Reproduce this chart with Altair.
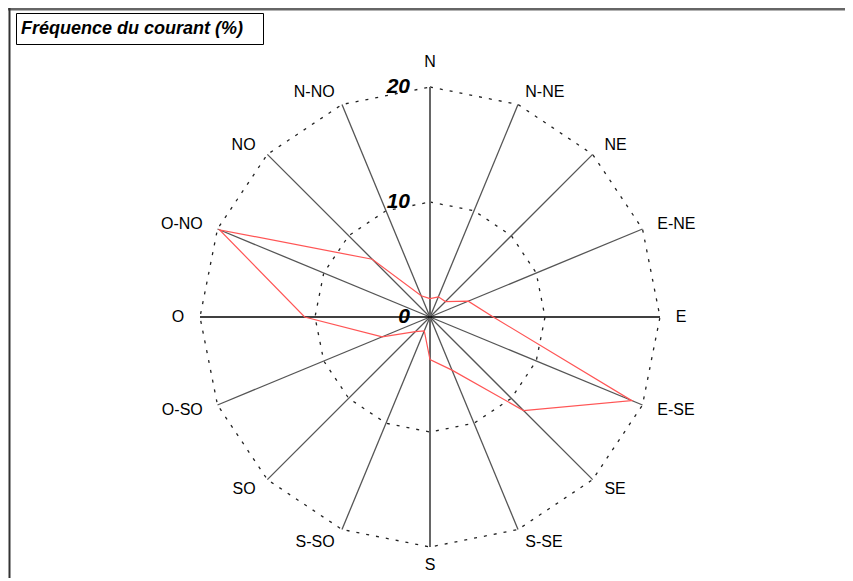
import altair as alt
import pandas as pd

# ---- data ----
directions = ["N", "N-NE", "NE", "E-NE", "E", "E-SE", "SE", "S-SE",
              "S", "S-SO", "SO", "O-SO", "O", "O-NO", "NO", "N-NO"]
frequencies = [1.6, 1.9, 1.9, 3.6, 5.5, 19.0, 11.5, 5.0,
               3.7, 1.3, 1.8, 4.5, 10.9, 19.8, 7.1, 2.0]
grid_rings = [10, 20]
radius_ticks = [0, 10, 20]
r_max = 20
title_text = "Fréquence du courant (%)"

n = len(directions)
spokes_df = pd.DataFrame({"dir": directions, "idx": list(range(n)), "r": [r_max] * n})
poly_df = pd.DataFrame({"idx": list(range(n + 1)), "value": frequencies + [frequencies[0]]})
ring_df = pd.DataFrame([{"ring": r, "idx": i} for r in grid_rings for i in range(n + 1)])
tick_df = pd.DataFrame({"tick": radius_ticks, "label": [str(t) for t in radius_ticks]})
one_df = pd.DataFrame({"k": [0]})

W, H = 837, 570
PX = 11.5  # pixels per unit
CX, CY = 422, 309
ANG = "datum.idx * PI / 8"
XS = alt.Scale(domain=[-CX / PX, (W - CX) / PX], nice=False, zero=False)
YS = alt.Scale(domain=[-(H - CY) / PX, CY / PX], nice=False, zero=False)
X = alt.X("x:Q", scale=XS, axis=None)
Y = alt.Y("y:Q", scale=YS, axis=None)
FONT = "Liberation Sans"

rings = alt.Chart(ring_df).transform_calculate(
    x=f"datum.ring * sin({ANG})", y=f"datum.ring * cos({ANG})"
).mark_line(stroke="#222", strokeWidth=1.3, strokeDash=[3, 7]).encode(
    X, Y, detail="ring:N", order="idx:Q")

spoke_base = alt.Chart(spokes_df).transform_calculate(
    x="0", y="0", xe=f"datum.r * sin({ANG})", ye=f"datum.r * cos({ANG})")

minor_spokes = spoke_base.transform_filter("datum.idx % 4 != 0").mark_rule(
    color="#555", strokeWidth=1.3).encode(X, Y, x2="xe:Q", y2="ye:Q")
vert_spokes = spoke_base.transform_filter("datum.idx % 8 == 0").mark_rule(
    color="#666", strokeWidth=2).encode(X, Y, x2="xe:Q", y2="ye:Q")
horiz_spokes = spoke_base.transform_filter("datum.idx % 8 == 4").mark_rule(
    color="#000", strokeWidth=1.5).encode(X, Y, x2="xe:Q", y2="ye:Q")

series = alt.Chart(poly_df).transform_calculate(
    x=f"datum.value * sin({ANG})", y=f"datum.value * cos({ANG})"
).mark_line(color="#ff5555", strokeWidth=1.2).encode(X, Y, order="idx:Q")

lab_base = alt.Chart(spokes_df).transform_calculate(
    x=f"21.2 * sin({ANG})", y=f"21.2 * cos({ANG})")
txt = dict(font=FONT, fontSize=16, color="#000", baseline="middle")
lab_e = lab_base.transform_filter("datum.idx > 0 && datum.idx < 8").mark_text(
    align="left", dx=2, **txt).encode(X, Y, text="dir:N")
lab_w = lab_base.transform_filter("datum.idx > 8").mark_text(
    align="right", dx=-2, **txt).encode(X, Y, text="dir:N")
lab_n = alt.Chart(spokes_df).transform_filter("datum.idx == 0").transform_calculate(
    x="0", y="22.2").mark_text(align="center", **txt).encode(X, Y, text="dir:N")
lab_s = alt.Chart(spokes_df).transform_filter("datum.idx == 8").transform_calculate(
    x="0", y="-21.6").mark_text(align="center", **txt).encode(X, Y, text="dir:N")

tick_labels = alt.Chart(tick_df).transform_calculate(x="0", y="datum.tick").mark_text(
    align="right", baseline="middle", dx=-20, font=FONT, fontSize=21,
    fontWeight="bold", fontStyle="italic", color="#000").encode(X, Y, text="label:N")

frame_top = alt.Chart(one_df).mark_rule(color="#666", strokeWidth=3).encode(
    x=alt.value(0), x2=alt.value(W), y=alt.value(1))
frame_left = alt.Chart(one_df).mark_rule(color="#333", strokeWidth=2).encode(
    x=alt.value(1.5), y=alt.value(0), y2=alt.value(H))
title_box = alt.Chart(one_df).mark_rect(fill="white", stroke="#000", strokeWidth=1).encode(
    x=alt.value(8.5), x2=alt.value(255.5), y=alt.value(5.5), y2=alt.value(36.5))
title = alt.Chart(one_df).mark_text(
    align="left", baseline="middle", font=FONT, fontSize=18,
    fontWeight="bold", fontStyle="italic", color="#000").encode(
    x=alt.value(13), y=alt.value(21), text=alt.value(title_text))

chart = alt.layer(
    rings, minor_spokes, vert_spokes, horiz_spokes, series,
    lab_e, lab_w, lab_n, lab_s, tick_labels,
    frame_top, frame_left, title_box, title
).properties(
    width=W, height=H,
    autosize=alt.AutoSizeParams(type="none"),
    padding=0, background="white"
).configure_view(stroke=None)

chart.save("out.html", embed_options={"renderer": "svg", "actions": False})
